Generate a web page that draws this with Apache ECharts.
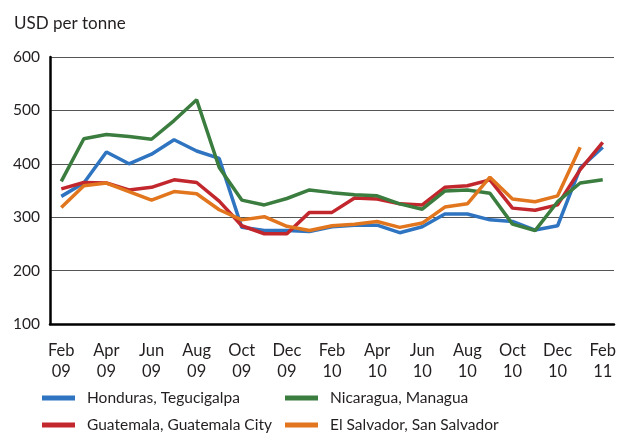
<!DOCTYPE html>
<html>
<head>
<meta charset="utf-8">
<script src="https://cdn.jsdelivr.net/npm/echarts@6/dist/echarts.min.js"></script>
<style>
html, body { margin: 0; padding: 0; background: #fff; }
#chart { width: 619px; height: 434px; }
</style>
</head>
<body>
<div id="chart"></div>
<script>
// ==============================================================
// Maize prices, Central America (USD per tonne)
// ==============================================================
var months = ['Feb 09','Mar 09','Apr 09','May 09','Jun 09','Jul 09','Aug 09','Sep 09','Oct 09','Nov 09','Dec 09','Jan 10',
              'Feb 10','Mar 10','Apr 10','May 10','Jun 10','Jul 10','Aug 10','Sep 10','Oct 10','Nov 10','Dec 10','Jan 11','Feb 11'];

var honduras   = [339, 364, 422, 400, 418, 445, 424, 410, 281, 275, 275, 273, 282, 285, 285, 271, 282, 306, 306, 295, 292, 276, 284, 392, 431];
var guatemala  = [353, 365, 364, 351, 356, 370, 365, 330, 284, 269, 269, 309, 309, 336, 334, 325, 323, 356, 359, 370, 317, 313, 323, 389, 440];
var nicaragua  = [367, 447, 455, 451, 446, 481, 520, 393, 332, 323, 335, 351, 346, 342, 340, 325, 315, 349, 351, 345, 287, 275, 329, 364, 370];
var elSalvador = [318, 359, 364, 348, 332, 348, 344, 314, 295, 301, 283, 275, 284, 287, 292, 281, 289, 319, 325, 375, 334, 329, 340, 431, null];

var seriesNames = ['Honduras, Tegucigalpa', 'Guatemala, Guatemala City', 'Nicaragua, Managua', 'El Salvador, San Salvador'];

var dom = document.getElementById('chart');
var myChart = echarts.init(dom);
var font = 'Lato';
var ink = '#231f20';

function line(name, data, color) {
    return {
        name: name,
        type: 'line',
        data: data,
        symbol: 'none',
        color: color,
        lineStyle: { width: 3.5, color: color },
        xAxisIndex: 0,
        yAxisIndex: 0
    };
}

// one legend per item so the two columns line up
function legendItem(name, left, top) {
    return {
        data: [name],
        left: left,
        top: top,
        icon: 'rect',
        itemWidth: 33,
        itemHeight: 5,
        padding: 0,
        textStyle: { fontFamily: font, fontSize: 15.5, color: ink, padding: [0, 0, 0, 7] }
    };
}

var option = {
    animation: false,
    textStyle: { fontFamily: font },
    title: {
        text: 'USD per tonne',
        left: 9,
        top: 10,
        textStyle: { fontFamily: font, fontSize: 17, fontWeight: 'normal', color: ink }
    },
    grid: { left: 50, right: 4, top: 57, bottom: 110, containLabel: false },
    legend: [
        legendItem(seriesNames[0], 42, 390),
        legendItem(seriesNames[1], 42, 417),
        legendItem(seriesNames[2], 285, 390),
        legendItem(seriesNames[3], 285, 417)
    ],
    xAxis: [
        {
            type: 'category',
            data: months,
            position: 'bottom',
            boundaryGap: true,
            axisLine: { lineStyle: { color: '#000', width: 2.5 } },
            axisTick: { alignWithLabel: true, interval: 0, length: 6, lineStyle: { color: '#000', width: 2 } },
            axisLabel: { show: false },
            splitLine: { show: false }
        },
        {
            type: 'category',
            data: months,
            position: 'bottom',
            boundaryGap: true,
            axisLine: { show: false },
            axisTick: { alignWithLabel: true, interval: 1, length: 11, lineStyle: { color: '#000', width: 2 } },
            axisLabel: {
                interval: 1,
                margin: 16,
                fontFamily: font,
                fontSize: 16.5,
                lineHeight: 21,
                color: ink,
                formatter: function (v) { return v.replace(' ', '\n'); }
            },
            splitLine: { show: false }
        }
    ],
    yAxis: {
        type: 'value',
        min: 100,
        max: 600,
        interval: 100,
        axisLine: { show: true, lineStyle: { color: '#000', width: 2.5 } },
        axisTick: { show: false },
        axisLabel: { fontFamily: font, fontSize: 15.5, color: ink, margin: 10 },
        splitLine: { lineStyle: { color: '#555', width: 1.2 } }
    },
    series: [
        line(seriesNames[0], honduras, '#2f74c0'),
        line(seriesNames[1], guatemala, '#c1272d'),
        line(seriesNames[2], nicaragua, '#3a7d3e'),
        line(seriesNames[3], elSalvador, '#e1761e')
    ]
};

myChart.setOption(option, true);
</script>
</body>
</html>
